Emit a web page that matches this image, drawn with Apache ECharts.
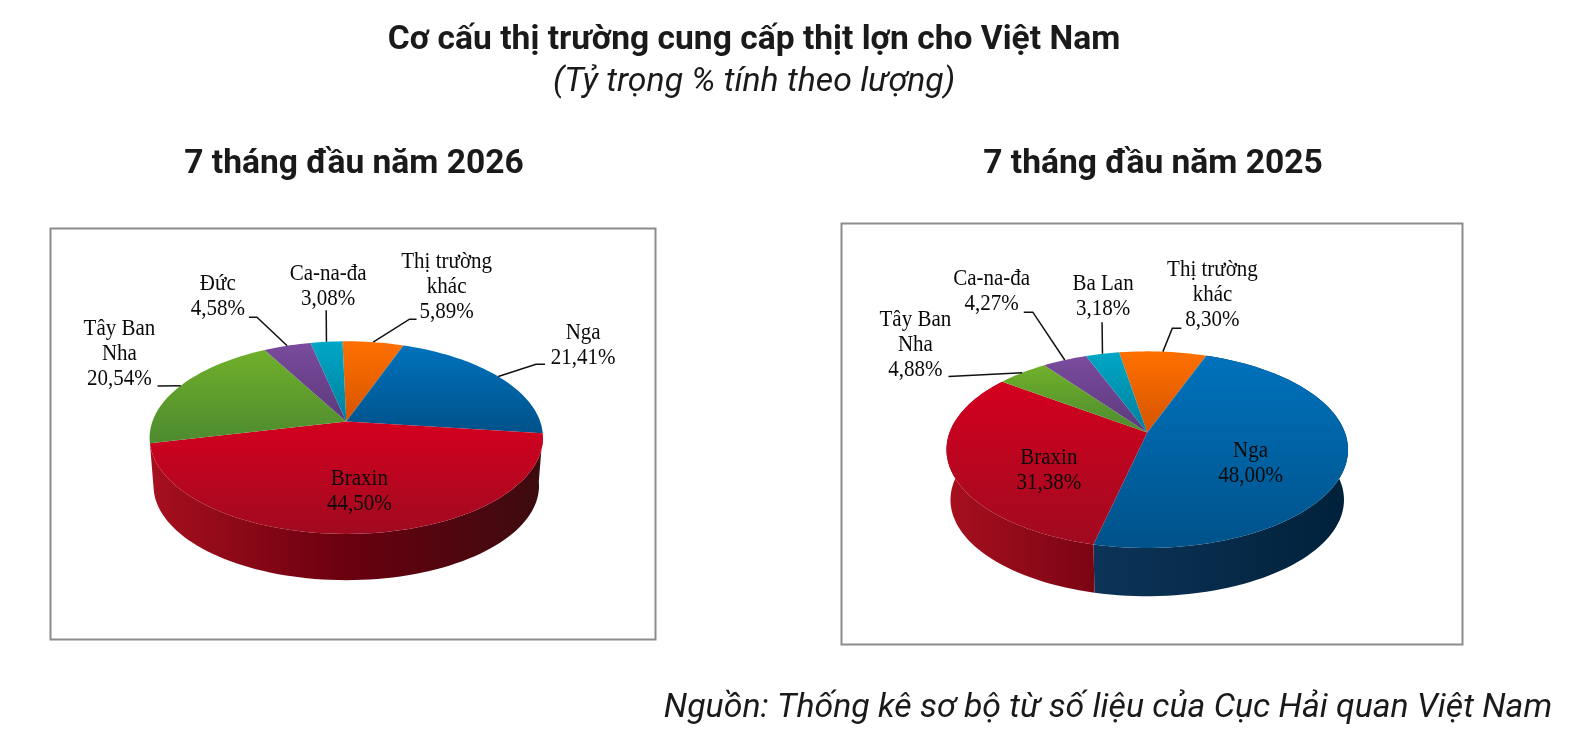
<!DOCTYPE html>
<html><head><meta charset="utf-8">
<style>html,body{margin:0;padding:0;background:#fff}#c{width:1574px;height:756px}</style>
<script src="https://cdn.jsdelivr.net/npm/echarts@6/dist/echarts.min.js"></script>
</head><body><div id="c"></div>
<script>
const mainTitle = 'Cơ cấu thị trường cung cấp thịt lợn cho Việt Nam';
const subTitle = '(Tỷ trọng % tính theo lượng)';
const sourceText = 'Nguồn: Thống kê sơ bộ từ số liệu của Cục Hải quan Việt Nam';
const title2026 = '7 tháng đầu năm 2026';
const title2025 = '7 tháng đầu năm 2025';
const categories2026 = ['Thị trường\nkhác', 'Nga', 'Braxin', 'Tây Ban\nNha', 'Đức', 'Ca-na-đa'];
const values2026 = [5.89, 21.41, 44.50, 20.54, 4.58, 3.08];
const categories2025 = ['Thị trường\nkhác', 'Nga', 'Braxin', 'Tây Ban\nNha', 'Ca-na-đa', 'Ba Lan'];
const values2025 = [8.30, 48.00, 31.38, 4.88, 4.27, 3.18];

// Slice styling, in drawing order
const topColors = [['#ff7000','#d55400'],['#0072bc','#00528a'],['#d4001f','#a00a20'],['#70b02a','#4c8a2f'],['#7b4b9d','#5a3a7c'],['#00a7c6','#007f9e']];
const wallStops = [
  ['#a04a00','#7a3a00','#5a2a00'],
  ['#143f68','#0a3052','#00213a'],
  ['#a8101f','#6a000f','#3b0b0f'],
  ['#4a7a20','#3a6018','#2a4a10'],
  ['#4a2a60','#3a2250','#2a1a40'],
  ['#006a80','#005060','#003a48']];

// Layout: perspective pie geometry and label placement
const S = 1.0037;
const scalePt = p => [p[0]*S, p[1]*S];
function makeLayout(o){
  return {cx:o.cx*S, cy:o.cy*S, X:o.X*S, Y:o.Y*S, k:o.k, depth:o.depth*S, ecy:o.ecy*S, start:o.start,
    labels:o.labels.map(scalePt), elbows:o.elbows.map(e=>e?e.map(scalePt):null)};
}
const layout2026 = makeLayout({cx:345, cy:420, X:193.2, Y:93.3, k:1/6, depth:48, ecy:436, start:-1.3,
  labels:[[445,285.5],[581,344],[358,489],[119,352],[217,295],[327,285]],
  elbows:[[[408,318],[415,318]],[[534,363],[543,363]],null,[[157,384.5]],[[256,316],[248,316]],[[325,309]]]});
const layout2025 = makeLayout({cx:1143, cy:431, X:197, Y:95, k:0.1736, depth:50, ecy:448, start:-9.6,
  labels:[[1208,293.5],[1246,461],[1045,468],[912,343],[988,290],[1099,295]],
  elbows:[[[1168,327],[1177,327]],null,null,[[945,375]],[[1029,311],[1020,311]],[[1098,321]]]});

function rim(L, deg){
  const a = deg*Math.PI/180, u = Math.sin(a), v = -Math.cos(a), s = 1/(1-L.k*v);
  return [L.cx + L.X*u*s, L.cy + L.Y*v*s];
}
function wallPoint(L, p){
  return [L.cx + (p[0]-L.cx)*0.98, L.ecy + (p[1]-L.ecy)*0.98 + L.depth];
}
function pieSeries(cats, vals, L){
  const total = vals.reduce((a,b)=>a+b,0);
  return {
    type:'custom', coordinateSystem:'none', silent:true, animation:false, clip:false,
    data: vals.map((v,i)=>({value:[v], name:cats[i]})),
    renderItem(params, api){
      const i = params.dataIndex, v = api.value(0);
      let before = 0; for(let j=0;j<i;j++) before += vals[j];
      const a0 = L.start + before/total*360, a1 = a0 + v/total*360, am = (a0+a1)/2;
      const arc = [];
      const n = Math.max(2, Math.ceil((a1-a0)/2));
      for(let t=0;t<=n;t++) arc.push(rim(L, a0+(a1-a0)*t/n));
      const left = L.cx - L.X*1.02, right = L.cx + L.X*1.02;
      const children = [];
      if(am > 90 && am < 270){
        const lower = arc.map(p=>wallPoint(L,p)).reverse();
        const wc = wallStops[i];
        children.push({type:'polygon', z2:1, shape:{points:arc.concat(lower)}, style:{
          fill:new echarts.graphic.LinearGradient(left,0,right,0,[{offset:0,color:wc[0]},{offset:0.5,color:wc[1]},{offset:1,color:wc[2]}],true)}});
      }
      children.push({type:'polygon', z2:2, shape:{points:[[L.cx,L.cy]].concat(arc)}, style:{
          fill:new echarts.graphic.LinearGradient(0,0,0,1,[{offset:0,color:topColors[i][0]},{offset:1,color:topColors[i][1]}])}});
      if(L.elbows[i]){
        const mid = rim(L,am);
        children.push({type:'polyline', z2:3, shape:{points:[mid].concat(L.elbows[i])}, style:{stroke:'#111',lineWidth:1.5,fill:null}});
      }
      children.push({type:'text', z2:5, x:L.labels[i][0], y:L.labels[i][1], scaleX:0.875, style:{
        text: cats[i]+'\n'+v.toFixed(2).replace('.',',')+'%',
        fontFamily:'Liberation Serif', fontSize:24, lineHeight:25, fill:'#0a0a0a', align:'center', verticalAlign:'middle'}});
      return {type:'group', children};
    }
  };
}
const chart = echarts.init(document.getElementById('c'), null, {renderer:'canvas'});
const titleFont = 'Roboto';
chart.setOption({
  backgroundColor:'#fff',
  animation:false,
  title:[
    {text:mainTitle, left:749, top:19, textAlign:'center', textStyle:{fontFamily:titleFont,fontSize:33.6,fontWeight:'bold',color:'#1a1a1a'}},
    {text:subTitle, left:749, top:61, textAlign:'center', textStyle:{fontFamily:titleFont,fontSize:33.8,fontStyle:'italic',fontWeight:'normal',color:'#1a1a1a'}},
    {text:title2026, left:349, top:143, textAlign:'center', textStyle:{fontFamily:titleFont,fontSize:33.6,fontWeight:'bold',color:'#1a1a1a'}},
    {text:title2025, left:1148, top:143, textAlign:'center', textStyle:{fontFamily:titleFont,fontSize:33.6,fontWeight:'bold',color:'#1a1a1a'}},
    {text:sourceText, left:1103, top:687, textAlign:'center', textStyle:{fontFamily:titleFont,fontSize:33.8,fontStyle:'italic',fontWeight:'normal',color:'#1a1a1a'}}
  ],
  graphic:[
    {type:'rect', z:-1, shape:{x:50.5,y:228.5,width:605,height:411}, style:{fill:'#fff',stroke:'#8c8c8c',lineWidth:2}},
    {type:'rect', z:-1, shape:{x:841.5,y:223.5,width:621,height:421}, style:{fill:'#fff',stroke:'#8c8c8c',lineWidth:2}}
  ],
  series:[pieSeries(categories2026,values2026,layout2026), pieSeries(categories2025,values2025,layout2025)]
});
</script></body></html>
